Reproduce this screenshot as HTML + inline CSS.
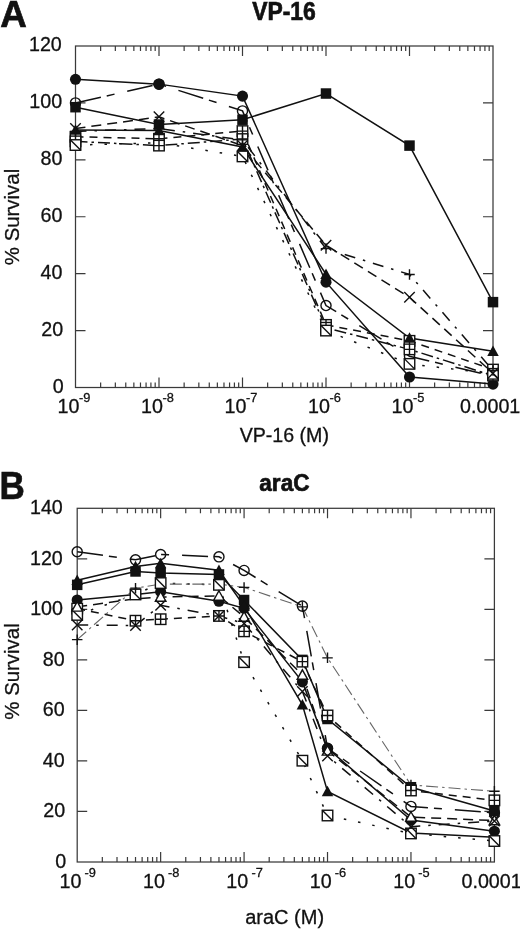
<!DOCTYPE html>
<html><head><meta charset="utf-8"><style>
html,body{margin:0;padding:0;background:#fff;width:520px;height:930px;overflow:hidden}
svg{display:block;filter:grayscale(1)}
text{font-family:"Liberation Sans",sans-serif;font-size:19px;fill:#111;stroke:#111;stroke-width:0.3px}
</style></head><body>
<svg width="520" height="930" viewBox="0 0 520 930">
<rect x="75.5" y="46" width="417.5" height="341.5" fill="none" stroke="#3a3a3a" stroke-width="1.25"/><path d="M100.64 387.5v-5M100.64 46v5M115.34 387.5v-5M115.34 46v5M125.77 387.5v-5M125.77 46v5M133.86 387.5v-5M133.86 46v5M140.48 387.5v-5M140.48 46v5M146.07 387.5v-5M146.07 46v5M150.91 387.5v-5M150.91 46v5M155.18 387.5v-5M155.18 46v5M159 387.5v-10M159 46v10M184.14 387.5v-5M184.14 46v5M198.84 387.5v-5M198.84 46v5M209.27 387.5v-5M209.27 46v5M217.36 387.5v-5M217.36 46v5M223.98 387.5v-5M223.98 46v5M229.57 387.5v-5M229.57 46v5M234.41 387.5v-5M234.41 46v5M238.68 387.5v-5M238.68 46v5M242.5 387.5v-10M242.5 46v10M267.64 387.5v-5M267.64 46v5M282.34 387.5v-5M282.34 46v5M292.77 387.5v-5M292.77 46v5M300.86 387.5v-5M300.86 46v5M307.48 387.5v-5M307.48 46v5M313.07 387.5v-5M313.07 46v5M317.91 387.5v-5M317.91 46v5M322.18 387.5v-5M322.18 46v5M326 387.5v-10M326 46v10M351.14 387.5v-5M351.14 46v5M365.84 387.5v-5M365.84 46v5M376.27 387.5v-5M376.27 46v5M384.36 387.5v-5M384.36 46v5M390.98 387.5v-5M390.98 46v5M396.57 387.5v-5M396.57 46v5M401.41 387.5v-5M401.41 46v5M405.68 387.5v-5M405.68 46v5M409.5 387.5v-10M409.5 46v10M434.64 387.5v-5M434.64 46v5M449.34 387.5v-5M449.34 46v5M459.77 387.5v-5M459.77 46v5M467.86 387.5v-5M467.86 46v5M474.48 387.5v-5M474.48 46v5M480.07 387.5v-5M480.07 46v5M484.91 387.5v-5M484.91 46v5M489.18 387.5v-5M489.18 46v5M75.5 330.58h10M493 330.58h-10M75.5 273.67h10M493 273.67h-10M75.5 216.75h10M493 216.75h-10M75.5 159.83h10M493 159.83h-10M75.5 102.92h10M493 102.92h-10" stroke="#3a3a3a" stroke-width="1.2" fill="none"/><path d="M75.5 102.92L159 84.13L242.5 110.88L326 305.54L409.5 356.2L493 376.12" fill="none" stroke="#111" stroke-width="1.5" stroke-dasharray="26,6,8,13"/><path d="M75.5 79.3L159 84.13L242.5 96.09L326 282.2L409.5 376.97L493 384.08" fill="none" stroke="#111" stroke-width="1.5"/><path d="M75.5 107.19L159 124.54L242.5 119.71L326 93.53L409.5 145.6L493 302.12" fill="none" stroke="#111" stroke-width="1.5"/><path d="M75.5 129.95L159 130.52L242.5 147.03L326 274.24L409.5 337.98L493 351.36" fill="none" stroke="#111" stroke-width="1.5"/><path d="M75.5 136.78L159 138.77L242.5 131.09L326 324.89L409.5 340.83L493 369.57" fill="none" stroke="#111" stroke-width="1.5" stroke-dasharray="8,6"/><path d="M75.5 141.34L159 145.6L242.5 139.06L326 327.74L409.5 349.37L493 375.55" fill="none" stroke="#111" stroke-width="1.5" stroke-dasharray="12,4,2.5,4"/><path d="M75.5 145.03L159 142.76L242.5 156.42L326 330.58L409.5 363.88L493 373.84" fill="none" stroke="#111" stroke-width="1.5" stroke-dasharray="2.5,12"/><path d="M75.5 128.53L159 116.86L242.5 145.6L326 245.21L409.5 297.29L493 373.27" fill="none" stroke="#111" stroke-width="1.5" stroke-dasharray="10,6"/><path d="M75.5 131.38L159 128.53L242.5 139.91L326 248.62L409.5 274.52L493 370.43" fill="none" stroke="#111" stroke-width="1.5" stroke-dasharray="11,8,2.5,8"/><circle cx="75.5" cy="102.92" r="5.05" fill="none" stroke="#111" stroke-width="1.4"/><circle cx="159" cy="84.13" r="5.05" fill="none" stroke="#111" stroke-width="1.4"/><circle cx="242.5" cy="110.88" r="5.05" fill="none" stroke="#111" stroke-width="1.4"/><circle cx="326" cy="305.54" r="5.05" fill="none" stroke="#111" stroke-width="1.4"/><circle cx="409.5" cy="356.2" r="5.05" fill="none" stroke="#111" stroke-width="1.4"/><circle cx="493" cy="376.12" r="5.05" fill="none" stroke="#111" stroke-width="1.4"/><circle cx="75.5" cy="79.3" r="5.55" fill="#111"/><circle cx="159" cy="84.13" r="5.55" fill="#111"/><circle cx="242.5" cy="96.09" r="5.55" fill="#111"/><circle cx="326" cy="282.2" r="5.55" fill="#111"/><circle cx="409.5" cy="376.97" r="5.55" fill="#111"/><circle cx="493" cy="384.08" r="5.55" fill="#111"/><rect x="70.25" y="101.94" width="10.5" height="10.5" fill="#111"/><rect x="153.75" y="119.29" width="10.5" height="10.5" fill="#111"/><rect x="237.25" y="114.46" width="10.5" height="10.5" fill="#111"/><rect x="320.75" y="88.28" width="10.5" height="10.5" fill="#111"/><rect x="404.25" y="140.35" width="10.5" height="10.5" fill="#111"/><rect x="487.75" y="296.88" width="10.5" height="10.5" fill="#111"/><rect x="70.25" y="131.53" width="10.5" height="10.5" fill="#fff" stroke="#111" stroke-width="1.4"/><path d="M70.25 136.78L80.75 136.78M75.5 131.53L75.5 142.03" stroke="#111" stroke-width="1.4" fill="none"/><rect x="153.75" y="133.52" width="10.5" height="10.5" fill="#fff" stroke="#111" stroke-width="1.4"/><path d="M153.75 138.77L164.25 138.77M159 133.52L159 144.02" stroke="#111" stroke-width="1.4" fill="none"/><rect x="237.25" y="125.84" width="10.5" height="10.5" fill="#fff" stroke="#111" stroke-width="1.4"/><path d="M237.25 131.09L247.75 131.09M242.5 125.84L242.5 136.34" stroke="#111" stroke-width="1.4" fill="none"/><rect x="320.75" y="319.64" width="10.5" height="10.5" fill="#fff" stroke="#111" stroke-width="1.4"/><path d="M320.75 324.89L331.25 324.89M326 319.64L326 330.14" stroke="#111" stroke-width="1.4" fill="none"/><rect x="404.25" y="335.58" width="10.5" height="10.5" fill="#fff" stroke="#111" stroke-width="1.4"/><path d="M404.25 340.83L414.75 340.83M409.5 335.58L409.5 346.08" stroke="#111" stroke-width="1.4" fill="none"/><rect x="487.75" y="364.32" width="10.5" height="10.5" fill="#fff" stroke="#111" stroke-width="1.4"/><path d="M487.75 369.57L498.25 369.57M493 364.32L493 374.82" stroke="#111" stroke-width="1.4" fill="none"/><rect x="70.25" y="136.09" width="10.5" height="10.5" fill="#fff" stroke="#111" stroke-width="1.4"/><path d="M70.25 141.34L80.75 141.34M75.5 136.09L75.5 146.59" stroke="#111" stroke-width="1.4" fill="none"/><rect x="153.75" y="140.35" width="10.5" height="10.5" fill="#fff" stroke="#111" stroke-width="1.4"/><path d="M153.75 145.6L164.25 145.6M159 140.35L159 150.85" stroke="#111" stroke-width="1.4" fill="none"/><rect x="237.25" y="133.81" width="10.5" height="10.5" fill="#fff" stroke="#111" stroke-width="1.4"/><path d="M237.25 139.06L247.75 139.06M242.5 133.81L242.5 144.31" stroke="#111" stroke-width="1.4" fill="none"/><rect x="320.75" y="322.49" width="10.5" height="10.5" fill="#fff" stroke="#111" stroke-width="1.4"/><path d="M320.75 327.74L331.25 327.74M326 322.49L326 332.99" stroke="#111" stroke-width="1.4" fill="none"/><rect x="404.25" y="344.12" width="10.5" height="10.5" fill="#fff" stroke="#111" stroke-width="1.4"/><path d="M404.25 349.37L414.75 349.37M409.5 344.12L409.5 354.62" stroke="#111" stroke-width="1.4" fill="none"/><rect x="487.75" y="370.3" width="10.5" height="10.5" fill="#fff" stroke="#111" stroke-width="1.4"/><path d="M487.75 375.55L498.25 375.55M493 370.3L493 380.8" stroke="#111" stroke-width="1.4" fill="none"/><path d="M75.5 124.2L81.25 134.7L69.75 134.7Z" fill="#111"/><path d="M159 124.77L164.75 135.27L153.25 135.27Z" fill="#111"/><path d="M242.5 141.28L248.25 151.78L236.75 151.78Z" fill="#111"/><path d="M326 268.49L331.75 278.99L320.25 278.99Z" fill="#111"/><path d="M409.5 332.23L415.25 342.73L403.75 342.73Z" fill="#111"/><path d="M493 345.61L498.75 356.11L487.25 356.11Z" fill="#111"/><rect x="70.25" y="139.78" width="10.5" height="10.5" fill="#fff" stroke="#111" stroke-width="1.4"/><path d="M70.25 139.78L80.75 150.28" stroke="#111" stroke-width="1.4" fill="none"/><rect x="237.25" y="151.17" width="10.5" height="10.5" fill="#fff" stroke="#111" stroke-width="1.4"/><path d="M237.25 151.17L247.75 161.67" stroke="#111" stroke-width="1.4" fill="none"/><rect x="320.75" y="325.33" width="10.5" height="10.5" fill="#fff" stroke="#111" stroke-width="1.4"/><path d="M320.75 325.33L331.25 335.83" stroke="#111" stroke-width="1.4" fill="none"/><rect x="404.25" y="358.63" width="10.5" height="10.5" fill="#fff" stroke="#111" stroke-width="1.4"/><path d="M404.25 358.63L414.75 369.13" stroke="#111" stroke-width="1.4" fill="none"/><rect x="487.75" y="368.59" width="10.5" height="10.5" fill="#fff" stroke="#111" stroke-width="1.4"/><path d="M487.75 368.59L498.25 379.09" stroke="#111" stroke-width="1.4" fill="none"/><path d="M70.25 123.28L80.75 133.78M80.75 123.28L70.25 133.78" stroke="#111" stroke-width="1.4" fill="none"/><path d="M153.75 111.61L164.25 122.11M164.25 111.61L153.75 122.11" stroke="#111" stroke-width="1.4" fill="none"/><path d="M237.25 140.35L247.75 150.85M247.75 140.35L237.25 150.85" stroke="#111" stroke-width="1.4" fill="none"/><path d="M320.75 239.96L331.25 250.46M331.25 239.96L320.75 250.46" stroke="#111" stroke-width="1.4" fill="none"/><path d="M404.25 292.04L414.75 302.54M414.75 292.04L404.25 302.54" stroke="#111" stroke-width="1.4" fill="none"/><path d="M487.75 368.02L498.25 378.52M498.25 368.02L487.75 378.52" stroke="#111" stroke-width="1.4" fill="none"/><path d="M70.25 131.38L80.75 131.38M75.5 126.12L75.5 136.62" stroke="#111" stroke-width="1.4" fill="none"/><path d="M153.75 128.53L164.25 128.53M159 123.28L159 133.78" stroke="#111" stroke-width="1.4" fill="none"/><path d="M237.25 139.91L247.75 139.91M242.5 134.66L242.5 145.16" stroke="#111" stroke-width="1.4" fill="none"/><path d="M320.75 248.62L331.25 248.62M326 243.37L326 253.87" stroke="#111" stroke-width="1.4" fill="none"/><path d="M404.25 274.52L414.75 274.52M409.5 269.27L409.5 279.77" stroke="#111" stroke-width="1.4" fill="none"/><path d="M487.75 370.43L498.25 370.43M493 365.18L493 375.68" stroke="#111" stroke-width="1.4" fill="none"/><rect x="77.2" y="508.3" width="417.2" height="353.7" fill="none" stroke="#3a3a3a" stroke-width="1.25"/><path d="M102.32 862v-5M102.32 508.3v5M117.01 862v-5M117.01 508.3v5M127.44 862v-5M127.44 508.3v5M135.52 862v-5M135.52 508.3v5M142.13 862v-5M142.13 508.3v5M147.71 862v-5M147.71 508.3v5M152.55 862v-5M152.55 508.3v5M156.82 862v-5M156.82 508.3v5M160.64 862v-10M160.64 508.3v10M185.76 862v-5M185.76 508.3v5M200.45 862v-5M200.45 508.3v5M210.88 862v-5M210.88 508.3v5M218.96 862v-5M218.96 508.3v5M225.57 862v-5M225.57 508.3v5M231.15 862v-5M231.15 508.3v5M235.99 862v-5M235.99 508.3v5M240.26 862v-5M240.26 508.3v5M244.08 862v-10M244.08 508.3v10M269.2 862v-5M269.2 508.3v5M283.89 862v-5M283.89 508.3v5M294.32 862v-5M294.32 508.3v5M302.4 862v-5M302.4 508.3v5M309.01 862v-5M309.01 508.3v5M314.59 862v-5M314.59 508.3v5M319.43 862v-5M319.43 508.3v5M323.7 862v-5M323.7 508.3v5M327.52 862v-10M327.52 508.3v10M352.64 862v-5M352.64 508.3v5M367.33 862v-5M367.33 508.3v5M377.76 862v-5M377.76 508.3v5M385.84 862v-5M385.84 508.3v5M392.45 862v-5M392.45 508.3v5M398.03 862v-5M398.03 508.3v5M402.87 862v-5M402.87 508.3v5M407.14 862v-5M407.14 508.3v5M410.96 862v-10M410.96 508.3v10M436.08 862v-5M436.08 508.3v5M450.77 862v-5M450.77 508.3v5M461.2 862v-5M461.2 508.3v5M469.28 862v-5M469.28 508.3v5M475.89 862v-5M475.89 508.3v5M481.47 862v-5M481.47 508.3v5M486.31 862v-5M486.31 508.3v5M490.58 862v-5M490.58 508.3v5M77.2 811.47h10M494.4 811.47h-10M77.2 760.94h10M494.4 760.94h-10M77.2 710.41h10M494.4 710.41h-10M77.2 659.89h10M494.4 659.89h-10M77.2 609.36h10M494.4 609.36h-10M77.2 558.83h10M494.4 558.83h-10" stroke="#3a3a3a" stroke-width="1.2" fill="none"/><path d="M77.2 551.75L135.52 559.84L160.64 554.53L218.96 556.81L244.08 570.45L302.4 606.07L327.52 748.31L410.96 806.42L494.4 812.73" fill="none" stroke="#111" stroke-width="1.5" stroke-dasharray="26,6,8,13"/><path d="M77.2 600.01L135.52 594.45L160.64 591.67L218.96 601.27L244.08 608.35L302.4 681.87L327.52 748.31L410.96 820.06L494.4 831.18" fill="none" stroke="#111" stroke-width="1.5"/><path d="M77.2 584.85L135.52 571.46L160.64 572.98L218.96 574.49L244.08 600.01L302.4 659.89L327.52 719L410.96 787.22L494.4 810.97" fill="none" stroke="#111" stroke-width="1.5"/><path d="M77.2 580.3L135.52 566.41L160.64 563.38L218.96 570.2L244.08 606.07L302.4 704.86L327.52 791.51L410.96 832.95L494.4 837.24" fill="none" stroke="#111" stroke-width="1.5"/><path d="M77.2 606.83L135.52 598.75L160.64 596.98L218.96 595.97L244.08 616.94L302.4 675.04L327.52 750.84L410.96 817.03L494.4 820.57" fill="none" stroke="#111" stroke-width="1.5" stroke-dasharray="10,6"/><path d="M77.2 608.6L135.52 620.73L160.64 619.21L218.96 615.93L244.08 631.34L302.4 661.65L327.52 715.47L410.96 790.5L494.4 800.36" fill="none" stroke="#111" stroke-width="1.5" stroke-dasharray="8,6"/><path d="M77.2 614.92L135.52 594.45L160.64 583.08L218.96 584.85L244.08 662.16L302.4 760.69L327.52 815.51L410.96 833.45L494.4 841.03" fill="none" stroke="#111" stroke-width="1.5" stroke-dasharray="2.5,12"/><path d="M77.2 625.02L135.52 625.53L160.64 605.31L218.96 615.93L244.08 623.51L302.4 691.47L327.52 755.89L410.96 826.63L494.4 821.07" fill="none" stroke="#111" stroke-width="1.5" stroke-dasharray="11,8,2.5,8"/><path d="M77.2 639.67L135.52 588.14L160.64 584.09L218.96 584.09L244.08 587.38L302.4 606.83L327.52 657.86L410.96 784.94L494.4 791.26" fill="none" stroke="#666" stroke-width="1.1" stroke-dasharray="12,4,2.5,4"/><circle cx="77.2" cy="551.75" r="5.05" fill="none" stroke="#111" stroke-width="1.4"/><circle cx="135.52" cy="559.84" r="5.05" fill="none" stroke="#111" stroke-width="1.4"/><circle cx="160.64" cy="554.53" r="5.05" fill="none" stroke="#111" stroke-width="1.4"/><circle cx="218.96" cy="556.81" r="5.05" fill="none" stroke="#111" stroke-width="1.4"/><circle cx="244.08" cy="570.45" r="5.05" fill="none" stroke="#111" stroke-width="1.4"/><circle cx="302.4" cy="606.07" r="5.05" fill="none" stroke="#111" stroke-width="1.4"/><circle cx="327.52" cy="748.31" r="5.05" fill="none" stroke="#111" stroke-width="1.4"/><circle cx="410.96" cy="806.42" r="5.05" fill="none" stroke="#111" stroke-width="1.4"/><circle cx="494.4" cy="812.73" r="5.05" fill="none" stroke="#111" stroke-width="1.4"/><circle cx="77.2" cy="600.01" r="5.55" fill="#111"/><circle cx="135.52" cy="594.45" r="5.55" fill="#111"/><circle cx="160.64" cy="591.67" r="5.55" fill="#111"/><circle cx="218.96" cy="601.27" r="5.55" fill="#111"/><circle cx="244.08" cy="608.35" r="5.55" fill="#111"/><circle cx="302.4" cy="681.87" r="5.55" fill="#111"/><circle cx="327.52" cy="748.31" r="5.55" fill="#111"/><circle cx="410.96" cy="820.06" r="5.55" fill="#111"/><circle cx="494.4" cy="831.18" r="5.55" fill="#111"/><rect x="71.95" y="579.6" width="10.5" height="10.5" fill="#111"/><rect x="130.27" y="566.21" width="10.5" height="10.5" fill="#111"/><rect x="155.39" y="567.73" width="10.5" height="10.5" fill="#111"/><rect x="213.71" y="569.24" width="10.5" height="10.5" fill="#111"/><rect x="238.83" y="594.76" width="10.5" height="10.5" fill="#111"/><rect x="297.15" y="654.64" width="10.5" height="10.5" fill="#111"/><rect x="322.27" y="713.75" width="10.5" height="10.5" fill="#111"/><rect x="405.71" y="781.97" width="10.5" height="10.5" fill="#111"/><rect x="489.15" y="805.72" width="10.5" height="10.5" fill="#111"/><rect x="71.95" y="603.35" width="10.5" height="10.5" fill="#fff" stroke="#111" stroke-width="1.4"/><path d="M71.95 608.6L82.45 608.6M77.2 603.35L77.2 613.85" stroke="#111" stroke-width="1.4" fill="none"/><rect x="130.27" y="615.48" width="10.5" height="10.5" fill="#fff" stroke="#111" stroke-width="1.4"/><path d="M130.27 620.73L140.77 620.73M135.52 615.48L135.52 625.98" stroke="#111" stroke-width="1.4" fill="none"/><rect x="155.39" y="613.96" width="10.5" height="10.5" fill="#fff" stroke="#111" stroke-width="1.4"/><path d="M155.39 619.21L165.89 619.21M160.64 613.96L160.64 624.46" stroke="#111" stroke-width="1.4" fill="none"/><rect x="213.71" y="610.68" width="10.5" height="10.5" fill="#fff" stroke="#111" stroke-width="1.4"/><path d="M213.71 615.93L224.21 615.93M218.96 610.68L218.96 621.18" stroke="#111" stroke-width="1.4" fill="none"/><rect x="238.83" y="626.09" width="10.5" height="10.5" fill="#fff" stroke="#111" stroke-width="1.4"/><path d="M238.83 631.34L249.33 631.34M244.08 626.09L244.08 636.59" stroke="#111" stroke-width="1.4" fill="none"/><rect x="297.15" y="656.4" width="10.5" height="10.5" fill="#fff" stroke="#111" stroke-width="1.4"/><path d="M297.15 661.65L307.65 661.65M302.4 656.4L302.4 666.9" stroke="#111" stroke-width="1.4" fill="none"/><rect x="322.27" y="710.22" width="10.5" height="10.5" fill="#fff" stroke="#111" stroke-width="1.4"/><path d="M322.27 715.47L332.77 715.47M327.52 710.22L327.52 720.72" stroke="#111" stroke-width="1.4" fill="none"/><rect x="405.71" y="785.25" width="10.5" height="10.5" fill="#fff" stroke="#111" stroke-width="1.4"/><path d="M405.71 790.5L416.21 790.5M410.96 785.25L410.96 795.75" stroke="#111" stroke-width="1.4" fill="none"/><rect x="489.15" y="795.11" width="10.5" height="10.5" fill="#fff" stroke="#111" stroke-width="1.4"/><path d="M489.15 800.36L499.65 800.36M494.4 795.11L494.4 805.61" stroke="#111" stroke-width="1.4" fill="none"/><path d="M77.2 574.55L82.95 585.05L71.45 585.05Z" fill="#111"/><path d="M135.52 560.66L141.27 571.16L129.77 571.16Z" fill="#111"/><path d="M160.64 557.63L166.39 568.13L154.89 568.13Z" fill="#111"/><path d="M218.96 564.45L224.71 574.95L213.21 574.95Z" fill="#111"/><path d="M244.08 600.32L249.83 610.82L238.33 610.82Z" fill="#111"/><path d="M302.4 699.11L308.15 709.61L296.65 709.61Z" fill="#111"/><path d="M327.52 785.76L333.27 796.26L321.77 796.26Z" fill="#111"/><path d="M410.96 827.2L416.71 837.7L405.21 837.7Z" fill="#111"/><path d="M494.4 831.49L500.15 841.99L488.65 841.99Z" fill="#111"/><rect x="71.95" y="609.67" width="10.5" height="10.5" fill="#fff" stroke="#111" stroke-width="1.4"/><path d="M71.95 609.67L82.45 620.17" stroke="#111" stroke-width="1.4" fill="none"/><rect x="130.27" y="589.2" width="10.5" height="10.5" fill="#fff" stroke="#111" stroke-width="1.4"/><path d="M130.27 589.2L140.77 599.7" stroke="#111" stroke-width="1.4" fill="none"/><rect x="155.39" y="577.83" width="10.5" height="10.5" fill="#fff" stroke="#111" stroke-width="1.4"/><path d="M155.39 577.83L165.89 588.33" stroke="#111" stroke-width="1.4" fill="none"/><rect x="213.71" y="579.6" width="10.5" height="10.5" fill="#fff" stroke="#111" stroke-width="1.4"/><path d="M213.71 579.6L224.21 590.1" stroke="#111" stroke-width="1.4" fill="none"/><rect x="238.83" y="656.91" width="10.5" height="10.5" fill="#fff" stroke="#111" stroke-width="1.4"/><path d="M238.83 656.91L249.33 667.41" stroke="#111" stroke-width="1.4" fill="none"/><rect x="297.15" y="755.44" width="10.5" height="10.5" fill="#fff" stroke="#111" stroke-width="1.4"/><path d="M297.15 755.44L307.65 765.94" stroke="#111" stroke-width="1.4" fill="none"/><rect x="322.27" y="810.26" width="10.5" height="10.5" fill="#fff" stroke="#111" stroke-width="1.4"/><path d="M322.27 810.26L332.77 820.76" stroke="#111" stroke-width="1.4" fill="none"/><rect x="405.71" y="828.2" width="10.5" height="10.5" fill="#fff" stroke="#111" stroke-width="1.4"/><path d="M405.71 828.2L416.21 838.7" stroke="#111" stroke-width="1.4" fill="none"/><rect x="489.15" y="835.78" width="10.5" height="10.5" fill="#fff" stroke="#111" stroke-width="1.4"/><path d="M489.15 835.78L499.65 846.28" stroke="#111" stroke-width="1.4" fill="none"/><path d="M77.2 601.58L82.45 611.08L71.95 611.08Z" fill="#fff" stroke="#111" stroke-width="1.4"/><path d="M160.64 591.73L165.89 601.23L155.39 601.23Z" fill="#fff" stroke="#111" stroke-width="1.4"/><path d="M218.96 590.72L224.21 600.22L213.71 600.22Z" fill="#fff" stroke="#111" stroke-width="1.4"/><path d="M244.08 611.69L249.33 621.19L238.83 621.19Z" fill="#fff" stroke="#111" stroke-width="1.4"/><path d="M302.4 669.79L307.65 679.29L297.15 679.29Z" fill="#fff" stroke="#111" stroke-width="1.4"/><path d="M327.52 745.59L332.77 755.09L322.27 755.09Z" fill="#fff" stroke="#111" stroke-width="1.4"/><path d="M410.96 811.78L416.21 821.28L405.71 821.28Z" fill="#fff" stroke="#111" stroke-width="1.4"/><path d="M494.4 815.32L499.65 824.82L489.15 824.82Z" fill="#fff" stroke="#111" stroke-width="1.4"/><path d="M71.95 619.77L82.45 630.27M82.45 619.77L71.95 630.27" stroke="#111" stroke-width="1.4" fill="none"/><path d="M130.27 620.28L140.77 630.78M140.77 620.28L130.27 630.78" stroke="#111" stroke-width="1.4" fill="none"/><path d="M155.39 600.06L165.89 610.56M165.89 600.06L155.39 610.56" stroke="#111" stroke-width="1.4" fill="none"/><path d="M213.71 610.68L224.21 621.18M224.21 610.68L213.71 621.18" stroke="#111" stroke-width="1.4" fill="none"/><path d="M238.83 618.26L249.33 628.76M249.33 618.26L238.83 628.76" stroke="#111" stroke-width="1.4" fill="none"/><path d="M297.15 686.22L307.65 696.72M307.65 686.22L297.15 696.72" stroke="#111" stroke-width="1.4" fill="none"/><path d="M322.27 750.64L332.77 761.14M332.77 750.64L322.27 761.14" stroke="#111" stroke-width="1.4" fill="none"/><path d="M405.71 821.38L416.21 831.88M416.21 821.38L405.71 831.88" stroke="#111" stroke-width="1.4" fill="none"/><path d="M489.15 815.82L499.65 826.32M499.65 815.82L489.15 826.32" stroke="#111" stroke-width="1.4" fill="none"/><path d="M71.95 639.67L82.45 639.67M77.2 634.42L77.2 644.92" stroke="#111" stroke-width="1.4" fill="none"/><path d="M130.27 588.14L140.77 588.14M135.52 582.89L135.52 593.39" stroke="#111" stroke-width="1.4" fill="none"/><path d="M238.83 587.38L249.33 587.38M244.08 582.13L244.08 592.63" stroke="#111" stroke-width="1.4" fill="none"/><path d="M297.15 606.83L307.65 606.83M302.4 601.58L302.4 612.08" stroke="#111" stroke-width="1.4" fill="none"/><path d="M322.27 657.86L332.77 657.86M327.52 652.61L327.52 663.11" stroke="#111" stroke-width="1.4" fill="none"/><path d="M405.71 784.94L416.21 784.94M410.96 779.69L410.96 790.19" stroke="#111" stroke-width="1.4" fill="none"/><path d="M489.15 791.26L499.65 791.26M494.4 786.01L494.4 796.51" stroke="#111" stroke-width="1.4" fill="none"/>
<text transform="translate(63.7 392.9)" style="font-size:19.7px" text-anchor="end">0</text><text transform="translate(63.2 335.98)" style="font-size:19.7px" text-anchor="end">20</text><text transform="translate(62.5 279.07)" style="font-size:19.7px" text-anchor="end">40</text><text transform="translate(62.5 222.15)" style="font-size:19.7px" text-anchor="end">60</text><text transform="translate(62.5 165.23)" style="font-size:19.7px" text-anchor="end">80</text><text transform="translate(62.2 108.32)" style="font-size:19.7px" text-anchor="end">100</text><text transform="translate(61.8 51.4)" style="font-size:19.7px" text-anchor="end">120</text><text transform="translate(79.4 412.5)" style="font-size:19.7px" text-anchor="end">10</text><text transform="translate(79 402.2)" style="font-size:12.8px">-9</text><text transform="translate(162.9 412.5)" style="font-size:19.7px" text-anchor="end">10</text><text transform="translate(162.5 402.2)" style="font-size:12.8px">-8</text><text transform="translate(246.4 412.5)" style="font-size:19.7px" text-anchor="end">10</text><text transform="translate(246 402.2)" style="font-size:12.8px">-7</text><text transform="translate(329.9 412.5)" style="font-size:19.7px" text-anchor="end">10</text><text transform="translate(329.5 402.2)" style="font-size:12.8px">-6</text><text transform="translate(413.4 412.5)" style="font-size:19.7px" text-anchor="end">10</text><text transform="translate(413 402.2)" style="font-size:12.8px">-5</text><text transform="translate(520.3 412.5)" style="font-size:19.7px" text-anchor="end">0.0001</text><text transform="translate(66.3 867.8)" style="font-size:19.7px" text-anchor="end">0</text><text transform="translate(65.1 817.27)" style="font-size:19.7px" text-anchor="end">20</text><text transform="translate(64.7 766.74)" style="font-size:19.7px" text-anchor="end">40</text><text transform="translate(64.7 716.21)" style="font-size:19.7px" text-anchor="end">60</text><text transform="translate(64.7 665.69)" style="font-size:19.7px" text-anchor="end">80</text><text transform="translate(63 615.16)" style="font-size:19.7px" text-anchor="end">100</text><text transform="translate(62.8 564.63)" style="font-size:19.7px" text-anchor="end">120</text><text transform="translate(62.8 514.1)" style="font-size:19.7px" text-anchor="end">140</text><text transform="translate(81.4 888.3)" style="font-size:19.7px" text-anchor="end">10</text><text transform="translate(84.5 877.4)" style="font-size:12.8px">-9</text><text transform="translate(164.84 888.3)" style="font-size:19.7px" text-anchor="end">10</text><text transform="translate(167.94 877.4)" style="font-size:12.8px">-8</text><text transform="translate(248.28 888.3)" style="font-size:19.7px" text-anchor="end">10</text><text transform="translate(251.38 877.4)" style="font-size:12.8px">-7</text><text transform="translate(331.72 888.3)" style="font-size:19.7px" text-anchor="end">10</text><text transform="translate(334.82 877.4)" style="font-size:12.8px">-6</text><text transform="translate(415.16 888.3)" style="font-size:19.7px" text-anchor="end">10</text><text transform="translate(418.26 877.4)" style="font-size:12.8px">-5</text><text transform="translate(521.7 888.3)" style="font-size:19.7px" text-anchor="end">0.0001</text><text transform="translate(18.8 217) rotate(-90)" style="font-size:20.4px" text-anchor="middle">% Survival</text><text transform="translate(18.8 671.5) rotate(-90)" style="font-size:20.4px" text-anchor="middle">% Survival</text><text transform="translate(284.3 441.8)" style="font-size:19.6px" text-anchor="middle">VP-16 (M)</text><text transform="translate(284.6 924.2)" style="font-size:20px" text-anchor="middle">araC (M)</text><text transform="translate(283.9 19.7) scale(0.915 1)" style="font-size:25px;font-weight:bold;stroke-width:0.7px" text-anchor="middle">VP-16</text><text transform="translate(284.4 490.6) scale(0.94 1)" style="font-size:24px;font-weight:bold;stroke-width:0.7px" text-anchor="middle">araC</text><text transform="translate(0.3 26.6) scale(0.98 1)" style="font-size:37.5px;font-weight:bold;stroke-width:0.7px">A</text><text transform="translate(-0.5 498.9) scale(0.91 1)" style="font-size:38.5px;font-weight:bold;stroke-width:0.7px">B</text>
</svg>
</body></html>
